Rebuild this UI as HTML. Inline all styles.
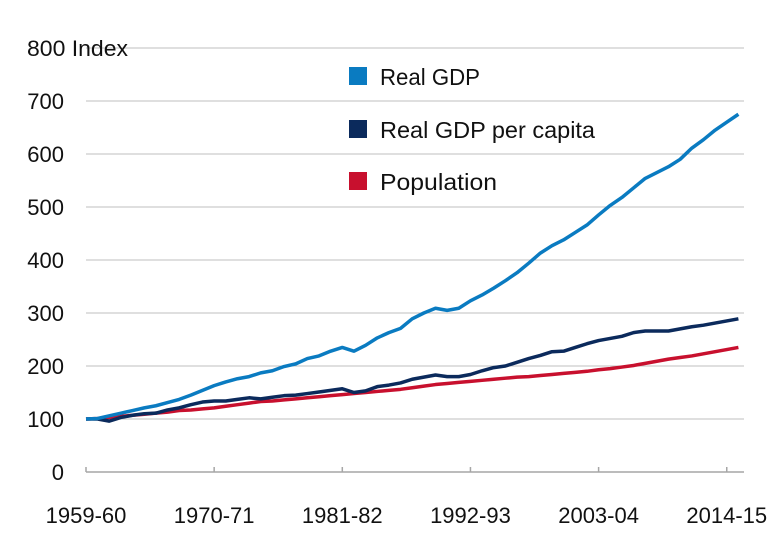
<!DOCTYPE html>
<html><head><meta charset="utf-8"><style>
body{margin:0;background:#fff;}
svg{display:block;font-family:"Liberation Sans",sans-serif;}
</style></head><body>
<svg id="chart" width="780" height="552"></svg>
<script>
const years = [];
for (let y = 1959; y <= 2015; y++) years.push(y);
const xTickLabels = ["1959-60","1970-71","1981-82","1992-93","2003-04","2014-15"];
const xTickIndex = [0,11,22,33,44,55];
const yTicks = [0,100,200,300,400,500,600,700,800];
const realGDP = [100,101,106,111,116,121,125,131,137,145,154,163,170,176,180,187,191,199,204,214,219,228,235,228,239,253,263,271,289,300,309,305,309,323,334,347,361,376,394,413,427,438,452,466,485,503,518,536,554,565,576,590,611,627,645,660,675];
const gdpPerCapita = [100,100,96,103,107,110,111,117,121,127,132,134,134,137,140,138,141,144,145,148,151,154,157,150,153,161,164,168,175,179,183,180,180,184,191,197,200,207,214,220,227,228,235,242,248,252,256,263,266,266,266,270,274,277,281,285,289];
const population = [100,101,103,105,107,109,111,113,116,117,119,121,124,127,130,133,134,136,138,140,142,144,146,148,150,152,154,156,159,162,165,167,169,171,173,175,177,179,180,182,184,186,188,190,193,195,198,201,205,209,213,216,219,223,227,231,235];

const NS = "http://www.w3.org/2000/svg";
const svg = document.getElementById("chart");
const x0 = 86, dx = 11.65, y0 = 472, k = 0.53;
const X = i => x0 + i * dx;
const Y = v => y0 - v * k;
function el(t, a, p) { const e = document.createElementNS(NS, t); for (const q in a) e.setAttribute(q, a[q]); (p || svg).appendChild(e); return e; }

yTicks.forEach(v => {
  if (v > 0) {
    const g = el("line", {x1: 86, x2: 744, y1: Y(v), y2: Y(v), stroke: "#bfbfbf", "stroke-width": 1});
    
    
  }
  if (v !== 800) {
    const t = el("text", {x: 64, y: Y(v) + 8, "text-anchor": "end", "font-size": 22, fill: "#111"});
    t.textContent = String(v);
    
    
  }
});
const yt = el("text", {x: 27, y: Y(800) + 8, "font-size": 22, fill: "#111", textLength: 101, lengthAdjust: "spacingAndGlyphs"});
yt.textContent = "800 Index";



const ax = el("line", {x1: 86, x2: 744, y1: y0, y2: y0, stroke: "#a6a6a6", "stroke-width": 1.5});


xTickIndex.forEach((idx, j) => {
  const tk = el("line", {x1: X(idx), x2: X(idx), y1: y0 - 5, y2: y0, stroke: "#a6a6a6", "stroke-width": 1.5});
  
  
  const t = el("text", {x: X(idx), y: 523, "text-anchor": "middle", "font-size": 22, fill: "#111"});
  t.textContent = xTickLabels[j];
  
  
});

function series(data, color, name) {
  const p = el("polyline", {points: data.map((v, i) => X(i) + "," + Y(v)).join(" "), fill: "none", stroke: color, "stroke-width": 3.5, "stroke-linejoin": "round"});
  
  
}
series(population, "#c8102e", "population-line");
series(gdpPerCapita, "#0b2a5c", "real-gdp-per-capita-line");
series(realGDP, "#0a7bc1", "real-gdp-line");

const legend = [["Real GDP", "#0a7bc1", 67, 100], ["Real GDP per capita", "#0b2a5c", 120, 215], ["Population", "#c8102e", 172, 117]];
legend.forEach(l => {
  const r = el("rect", {x: 349, y: l[2], width: 18, height: 18, fill: l[1]});
  
  
  const t = el("text", {x: 380, y: l[2] + 18, "font-size": 23, fill: "#111", textLength: l[3], lengthAdjust: "spacingAndGlyphs"});
  t.textContent = l[0];
  
  
});
</script>
</body></html>
